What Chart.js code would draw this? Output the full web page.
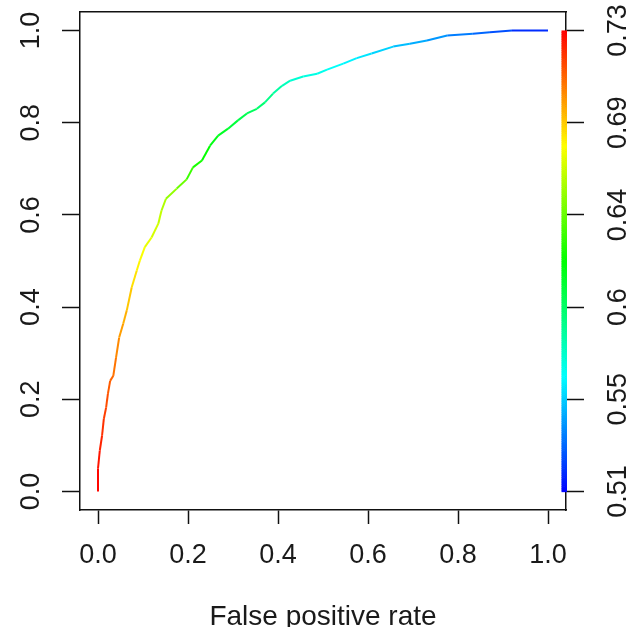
<!DOCTYPE html>
<html><head><meta charset="utf-8">
<script src="https://cdn.jsdelivr.net/npm/chart.js@4.4.1/dist/chart.umd.min.js"></script>
<style>html,body{margin:0;padding:0;background:#fff}#wrap{width:634px;height:627px}</style>
</head><body><div id="wrap"><canvas id="c"></canvas></div>
<script>
// ROC curve (false positive rate, true positive rate) and cutoff at each point
const fpr = [0,0,0.004,0.009,0.013,0.018,0.022,0.027,0.034,0.04,0.047,0.056,0.064,0.075,0.086,0.093,0.104,0.119,0.134,0.141,0.151,0.175,0.197,0.211,0.231,0.249,0.267,0.289,0.311,0.331,0.353,0.371,0.389,0.409,0.427,0.456,0.487,0.509,0.545,0.575,0.608,0.656,0.693,0.731,0.776,0.833,0.871,0.92,1.0];
const tpr = [0,0.05,0.089,0.121,0.158,0.182,0.212,0.24,0.251,0.29,0.334,0.364,0.393,0.443,0.479,0.501,0.53,0.551,0.581,0.609,0.635,0.657,0.677,0.703,0.718,0.75,0.772,0.787,0.805,0.82,0.83,0.844,0.863,0.88,0.891,0.9,0.906,0.915,0.928,0.94,0.95,0.965,0.971,0.978,0.989,0.993,0.996,1.0,1.0];
const cutoffs = [0.73,0.727,0.724,0.721,0.718,0.715,0.712,0.709,0.707,0.703,0.698,0.694,0.69,0.684,0.679,0.676,0.672,0.668,0.664,0.66,0.655,0.648,0.638,0.627,0.623,0.618,0.614,0.61,0.605,0.602,0.598,0.593,0.588,0.581,0.577,0.572,0.57,0.568,0.564,0.561,0.558,0.553,0.549,0.545,0.54,0.534,0.53,0.524,0.515];
const xTickValues = [0,0.2,0.4,0.6,0.8,1.0];
const xTickLabels = ["0.0","0.2","0.4","0.6","0.8","1.0"];
const yTickValues = [0,0.2,0.4,0.6,0.8,1.0];
const yTickLabels = ["0.0","0.2","0.4","0.6","0.8","1.0"];
const cbTickValues = [0.51,0.554,0.598,0.642,0.686,0.73];
const cbTickLabels = ["0.51","0.55","0.6","0.64","0.69","0.73"];
const cutoffMin = 0.51, cutoffMax = 0.73;
const xTitle = "False positive rate";

function colorFor(c){
  let t = (cutoffMax - c) / (cutoffMax - cutoffMin);
  t = Math.max(0, Math.min(1, t));
  return 'hsl(' + (240 * t).toFixed(1) + ',100%,50%)';
}

const FONT = "'Liberation Sans', Arial, sans-serif";
const TXT = '#1a1a1a';
const AX = '#111';
const cr = cutoffMax - cutoffMin;

const colorbarPlugin = {
  id: 'colorbar',
  afterDatasetsDraw(chart){
    const s = chart.scales.yc, ctx = chart.ctx, right = chart.chartArea.right;
    const n = 256;
    ctx.save();
    for (let i = 0; i < n; i++){
      const c0 = cutoffMin + cr * i / n, c1 = cutoffMin + cr * (i + 1) / n;
      const yA = s.getPixelForValue(c0), yB = s.getPixelForValue(c1);
      ctx.fillStyle = colorFor((c0 + c1) / 2);
      ctx.fillRect(right - 4.5, yB, 5.5, yA - yB + 0.6);
    }
    ctx.restore();
  }
};

const tickFont = {family: FONT, size: 27};
const gridOpts = (len) => ({display: true, drawOnChartArea: false, drawTicks: true, tickLength: len, tickWidth: 1.5, tickColor: AX});
const borderOpts = {display: true, width: 1.5, color: AX};
const noPad = s => { s.paddingTop = 0; s.paddingBottom = 0; s.paddingLeft = 0; s.paddingRight = 0; };

new Chart(document.getElementById('c'), {
  type: 'line',
  data: {
    datasets: [{
      data: fpr.map((x, i) => ({x: x, y: tpr[i]})),
      borderWidth: 2,
      pointRadius: 0,
      fill: false,
      tension: 0,
      segment: {
        borderColor: ctx => colorFor((cutoffs[ctx.p0DataIndex] + cutoffs[ctx.p1DataIndex]) / 2)
      }
    }]
  },
  options: {
    responsive: true,
    maintainAspectRatio: false,
    animation: false,
    layout: {padding: 0},
    plugins: {legend: {display: false}, tooltip: {enabled: false}},
    scales: {
      x: {
        type: 'linear', position: 'bottom', min: -0.04, max: 1.04,
        afterBuildTicks: s => { s.ticks = xTickValues.map(v => ({value: v})); },
        ticks: {callback: (v, i) => xTickLabels[i], font: tickFont, color: TXT, padding: 15, autoSkip: false, maxRotation: 0},
        grid: gridOpts(14), border: borderOpts,
        title: {display: true, text: xTitle, color: TXT, font: {family: FONT, size: 28, lineHeight: 0.7}, padding: 0},
        afterFit: s => { s.height = 117; noPad(s); }
      },
      x2: {
        type: 'linear', position: 'top', min: -0.04, max: 1.04,
        ticks: {display: false}, grid: {display: false}, border: borderOpts,
        afterFit: s => { s.height = 12; noPad(s); }
      },
      y: {
        type: 'linear', position: 'left', min: -0.04, max: 1.04,
        afterBuildTicks: s => { s.ticks = yTickValues.map(v => ({value: v})); },
        ticks: {callback: (v, i) => yTickLabels[i], font: tickFont, color: TXT, padding: 12, autoSkip: false, minRotation: 90, maxRotation: 90, crossAlign: 'center'},
        grid: gridOpts(18), border: borderOpts,
        afterFit: s => { s.width = 80; noPad(s); }
      },
      yc: {
        type: 'linear', position: 'right', min: cutoffMin - 0.04 * cr, max: cutoffMax + 0.04 * cr,
        afterBuildTicks: s => { s.ticks = cbTickValues.map(v => ({value: v})); },
        ticks: {callback: (v, i) => cbTickLabels[i], font: tickFont, color: TXT, padding: 8, autoSkip: false, minRotation: 90, maxRotation: 90, crossAlign: 'center'},
        grid: gridOpts(18), border: borderOpts,
        afterFit: s => { s.width = 68; noPad(s); }
      }
    }
  },
  plugins: [colorbarPlugin]
});
</script>
</body></html>
